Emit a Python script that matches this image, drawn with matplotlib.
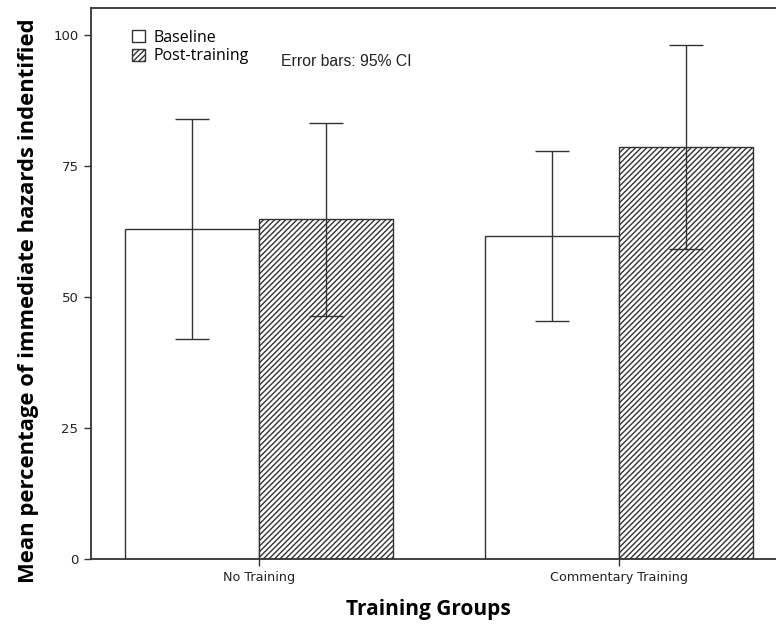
import matplotlib
matplotlib.use("Agg")
import matplotlib.pyplot as plt
import numpy as np

groups = ["No Training", "Commentary Training"]
series = ["Baseline", "Post-training"]
means = {
    "Baseline": [63.0, 61.6],
    "Post-training": [64.9, 78.6],
}
ci_low = {
    "Baseline": [42.0, 45.4],
    "Post-training": [46.4, 59.2],
}
ci_high = {
    "Baseline": [84.0, 77.9],
    "Post-training": [83.2, 98.1],
}
y_ticks = [0, 25, 50, 75, 100]

plt.rcParams["hatch.linewidth"] = 1.0
plt.rcParams["hatch.color"] = "#333333"

fig = plt.figure(figsize=(7.76, 6.26), dpi=100)
ax = fig.add_axes([91 / 776, 1 - 559 / 626, 1 - 91 / 776, (559 - 8) / 626])

x = np.arange(len(groups))
width = 0.372
edge = "#333333"
handles = []
for i, name in enumerate(series):
    offset = (i - 0.5) * width
    vals = np.array(means[name])
    lo = vals - np.array(ci_low[name])
    hi = np.array(ci_high[name]) - vals
    bars = ax.bar(
        x + offset, vals, width,
        color="white", edgecolor=edge, linewidth=1.0,
        hatch="//////" if i == 1 else None, label=name, zorder=2,
    )
    handles.append(bars)
    ax.errorbar(
        x + offset, vals, yerr=[lo, hi], fmt="none",
        ecolor=edge, elinewidth=1.0, capsize=12, capthick=1.0, zorder=3,
    )

ax.set_xlim(-0.4667, 1.436)
ax.set_ylim(0, 105.15)
ax.set_yticks(y_ticks)
ax.set_yticklabels([str(t) for t in y_ticks], fontsize=9.5, family="DejaVu Sans", color="#222222")
ax.set_xticks(x)
ax.set_xticklabels(groups, fontsize=9.2, family="DejaVu Sans", color="#222222")
ax.tick_params(axis="both", length=5, width=1.0, color=edge, pad=4)

for side in ["left", "bottom", "top"]:
    ax.spines[side].set_color(edge)
    ax.spines[side].set_linewidth(1.3)
ax.spines["right"].set_visible(False)

ax.set_ylabel("Mean percentage of immediate hazards indentified",
              fontsize=15.8, fontweight="bold", family="Open Sans")
ax.yaxis.set_label_coords(-0.076, 0.468)
ax.set_xlabel("Training Groups", fontsize=15, fontweight="bold",
              family="Open Sans")
ax.xaxis.set_label_coords(0.492, -0.072)

leg = ax.legend(
    handles=handles, labels=series, loc="upper left",
    bbox_to_anchor=(0.051, 0.972), frameon=False,
    handlelength=0.8, handleheight=0.8, handletextpad=0.5,
    labelspacing=0.15, borderaxespad=0.0,
    prop={"family": "Open Sans", "size": 11.5},
)

ax.text(0.277, 0.895, "Error bars: 95% CI", transform=ax.transAxes,
        fontsize=11.3, family="Liberation Sans", color="#222222")

fig.savefig("out.png", dpi=100, facecolor="white")
